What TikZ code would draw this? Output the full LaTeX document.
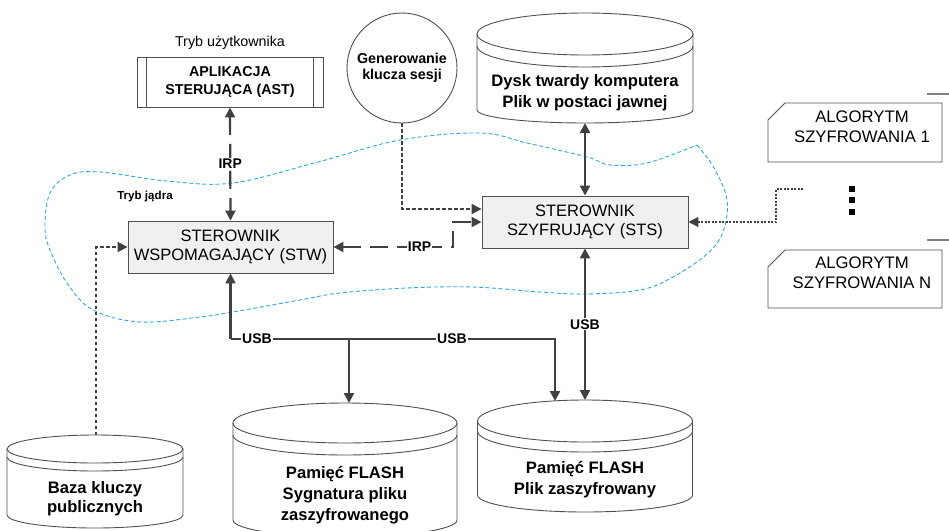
\documentclass[tikz,border=0pt]{standalone}
\usepackage{fontspec}
\setmainfont{Liberation Sans}
\usetikzlibrary{arrows.meta}
\definecolor{ln}{HTML}{404040}
\definecolor{bx}{HTML}{505050}
\definecolor{kern}{HTML}{2BAAE6}
\definecolor{boxfill}{HTML}{F0F0F0}
% cylinder: cx, cy(top ellipse centre), rx, ry, offset of 2nd arc, y of bottom sides, ry bottom
\newcommand\mycyl[7]{%
  \fill[white] ({#1-#3},#2) -- ({#1-#3},#6) arc[start angle=180,end angle=360,x radius=#3pt,y radius=#7pt] -- ({#1+#3},#2) -- cycle;
  \fill[white] (#1,#2) ellipse[x radius=#3pt,y radius=#4pt];
  \draw[cylline] ({#1-#3},#2) -- ({#1-#3},#6) arc[start angle=180,end angle=360,x radius=#3pt,y radius=#7pt] -- ({#1+#3},#2);
  \draw[cylline] (#1,#2) ellipse[x radius=#3pt,y radius=#4pt];
  \draw[cylline] ({#1-#3},{#2+#5}) arc[start angle=180,end angle=360,x radius=#3pt,y radius=#4pt];
}
\begin{document}
\begin{tikzpicture}[x=1pt,y=-1pt,
  >={Triangle[length=10pt,width=10pt]},
  conn/.style={draw=ln,line width=2.2pt},
  irp/.style={draw=ln,line width=2.2pt,dash pattern=on 18pt off 9pt},
  dots/.style={draw=ln,line width=1.8pt,dash pattern=on 3.5pt off 2.5pt},
  thindots/.style={draw=ln,line width=1.2pt,dash pattern=on 2pt off 1.5pt},
  drv/.style={draw=bx,fill=boxfill,line width=0.9pt,minimum width=206pt,minimum height=52pt,align=center,inner sep=0pt,font=\fontsize{16.5}{19}\selectfont},
  lbl/.style={fill=white,inner sep=1pt,font=\bfseries\fontsize{14}{16}\selectfont},
  cyltxt/.style={align=center,inner sep=0pt,font=\bfseries\fontsize{16.6}{21}\selectfont},
  algtxt/.style={align=center,inner sep=0pt,font=\fontsize{16.7}{20}\selectfont},
  cylline/.style={draw=bx,line width=0.9pt},
]
\useasboundingbox (0,0) rectangle (949,530);
\clip (0,0) rectangle (949,530);

% kernel-mode boundary
\draw[kern,line width=0.9pt,dash pattern=on 4pt off 2.5pt] plot[smooth,tension=0.6] coordinates {
 (697,145) (714,168) (727,200) (723,232) (707,254) (673,277) (640,290) (585,294)
 (540,292) (473,287) (407,288) (340,293) (300,300) (233,312) (200,317) (140,322)
 (93,310) (67,283) (50,250) (45,227) (50,193) (70,175) (100,172) (167,181)
 (233,183) (318,162) (400,140) (480,133) (527,143) (587,157) (610,165) (647,163) (697,145)};

% cylinders
\mycyl{585}{34}{108}{21}{12}{110}{13}
\mycyl{585}{421}{107.5}{21}{10}{495}{17}
\mycyl{345}{423}{112}{20}{12}{520}{17}
\mycyl{95}{449}{88}{14}{8}{515}{13}
\node[cyltxt] (dysk) at (585,92.5) {Dysk twardy komputera\\Plik w postaci jawnej};
\node[cyltxt] (plik) at (585,480) {Pamięć FLASH\\Plik zaszyfrowany};
\node[cyltxt] (syg) at (345,495) {Pamięć FLASH\\Sygnatura pliku\\zaszyfrowanego};
\node[cyltxt,font=\bfseries\fontsize{16.6}{19}\selectfont] (baza) at (95,499) {Baza kluczy\\publicznych};
\coordinate (dyskBot) at (585,123);
\coordinate (plikTop) at (585,400);
\coordinate (plikA) at (555,401);
\coordinate (sygTop) at (349,403);
\coordinate (bazaTop) at (96,435);

% user-mode application
\node[font=\fontsize{14.3}{17}\selectfont] (tu) at (230,43) {Tryb użytkownika};
\node[draw=bx,line width=0.9pt,fill=white,minimum width=186pt,minimum height=50pt,align=center,inner sep=0pt,font=\bfseries\fontsize{14.3}{17.5}\selectfont] (ast) at (230,82) {APLIKACJA\\STERUJĄCA (AST)};
\draw[cylline] ([xshift=10pt]ast.north west) -- ([xshift=10pt]ast.south west);
\draw[cylline] ([xshift=-10pt]ast.north east) -- ([xshift=-10pt]ast.south east);

% session key generation
\node[circle,draw=bx,line width=0.9pt,fill=white,minimum size=110pt,inner sep=0pt,align=center,font=\bfseries\fontsize{14.3}{16.5}\selectfont] (gen) at (402,68) {Generowanie\\klucza sesji};

\node[font=\bfseries\fontsize{11.6}{14}\selectfont] (tj) at (145,196) {Tryb jądra};

% drivers
\node[drv] (sts) at (585,222) {STEROWNIK\\SZYFRUJĄCY (STS)};
\node[drv,minimum width=205pt] (stw) at (230.5,247) {STEROWNIK\\WSPOMAGAJĄCY (STW)};

% algorithms
\draw[cylline,fill=white] (768,120) -- (785,103) -- (942,103) -- (942,162) -- (768,162) -- cycle;
\node[algtxt] (alg1) at (862,127) {ALGORYTM\\SZYFROWANIA 1};
\draw[cylline,fill=white] (768,267) -- (785,250) -- (942,250) -- (942,308) -- (768,308) -- cycle;
\node[algtxt] (algN) at (862,273) {ALGORYTM\\SZYFROWANIA N};
\fill[black] (849,186) rectangle (855,192);
\fill[black] (849,197) rectangle (855,203);
\fill[black] (849,209) rectangle (855,215);
\draw[gray,line width=1.2pt] (927,94) -- (949,94);
\draw[gray,line width=1.2pt] (927,240) -- (949,240);

% connectors
\draw[irp,<->] (ast.south) -- node[lbl]{IRP} (stw.north);
\coordinate (irpA) at (453,247);
\coordinate (irpB) at (453,222);
\draw[irp,<->] (stw.east) -- node[lbl,pos=0.72]{IRP} (irpA) -- (irpB) -- (sts.west);
\draw[dots,->] (gen.south) |- ([yshift=13pt]sts.west);
\draw[dots,->] (bazaTop) |- (stw.west);
\coordinate (algEnd) at (803,189);
\coordinate (algMid) at (776,189);
\draw[thindots,->] (algEnd) -- (algMid) |- (sts.east);
\draw[conn,<->] (dyskBot) -- (sts.north);
\draw[conn,<->] (sts.south) -- node[lbl]{USB} (plikTop);
\coordinate (busL) at (230.5,339);
\coordinate (busM) at (349,339);
\coordinate (busR) at (555,339);
\draw[conn,->] (busL) -- (stw.south);
\draw[conn,->] (busL) -- (busR) -- (plikA);
\draw[conn,->] (busM) -- (sygTop);
\node[lbl] (usb1) at (257,339) {USB};
\node[lbl] (usb2) at (452,339) {USB};
\end{tikzpicture}
\end{document}
